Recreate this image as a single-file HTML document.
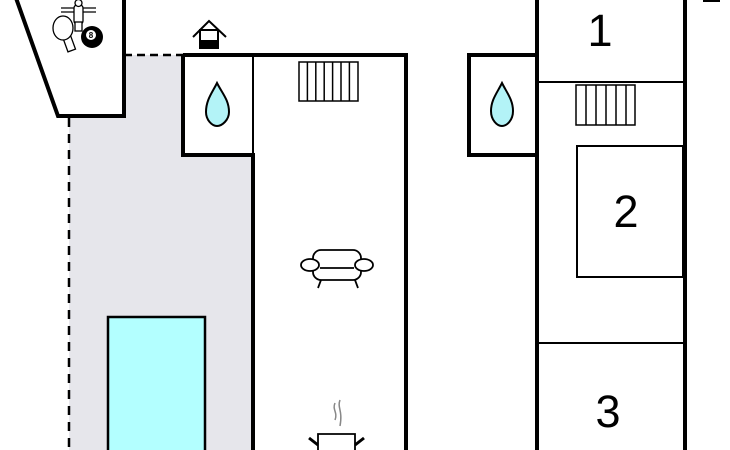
<!DOCTYPE html>
<html><head><style>html,body{margin:0;padding:0;background:#fff;}svg{display:block}</style></head>
<body>
<svg width="730" height="450" viewBox="0 0 730 450" xmlns="http://www.w3.org/2000/svg">
<rect width="730" height="450" fill="#fff"/>
<polygon points="124,55 183,55 183,155 253,155 253,450 69,450 69,116 124,116" fill="#e6e6eb"/>
<rect x="108" y="317" width="97" height="140" fill="#b3ffff" stroke="#000" stroke-width="2.5"/>
<line x1="124" y1="55" x2="183" y2="55" stroke="#000" stroke-width="2.5" stroke-dasharray="8,5"/>
<line x1="69" y1="118" x2="69" y2="450" stroke="#000" stroke-width="2.5" stroke-dasharray="9,7"/>
<polygon points="16,-2 58,116 124,116 124,-2" fill="#fff" stroke="#000" stroke-width="4"/>
<g stroke="#000" stroke-width="1.3" fill="none">
<line x1="61" y1="8" x2="96" y2="8"/><line x1="61" y1="12" x2="96" y2="12"/>
<rect x="74" y="5" width="9" height="19" rx="3" fill="#fff"/>
<circle cx="78.5" cy="3" r="3.5" fill="#fff"/>
<rect x="75" y="22" width="7" height="9" fill="#fff"/>
<rect x="65" y="36" width="8" height="15" transform="rotate(-20 69 43)" fill="#fff"/>
<ellipse cx="63" cy="28" rx="10" ry="12" fill="#fff"/>
</g>
<circle cx="92" cy="37" r="11" fill="#000"/>
<circle cx="91" cy="35" r="5" fill="#fff"/>
<text x="91" y="38" font-family="Liberation Sans, sans-serif" font-size="8" font-weight="bold" text-anchor="middle">8</text>
<polyline points="193,37 209,21 226,37" fill="none" stroke="#000" stroke-width="2"/>
<rect x="200" y="30" width="18" height="18" fill="#fff" stroke="#000" stroke-width="2"/>
<rect x="200" y="40" width="18" height="8" fill="#000"/>
<polyline points="183,55 406,55 406,452" fill="none" stroke="#000" stroke-width="4"/>
<polyline points="183,55 183,155 253,155 253,452" fill="none" stroke="#000" stroke-width="4"/>
<line x1="253" y1="55" x2="253" y2="155" stroke="#000" stroke-width="2"/>
<path d="M217,83 C212,93 206,100 206,112 C206,120 212,126 217,126 C222,126 229,120 229,112 C229,100 222,93 217,83 Z" fill="#b3f3f7" stroke="#000" stroke-width="2"/>
<g stroke="#000" stroke-width="1.5" fill="none">
<rect x="299" y="62" width="59" height="39"/>
<line x1="307.4" y1="62" x2="307.4" y2="101"/><line x1="315.8" y1="62" x2="315.8" y2="101"/><line x1="324.2" y1="62" x2="324.2" y2="101"/><line x1="332.6" y1="62" x2="332.6" y2="101"/><line x1="341" y1="62" x2="341" y2="101"/><line x1="349.4" y1="62" x2="349.4" y2="101"/>
</g>
<g stroke="#000" stroke-width="1.8" fill="#fff">
<rect x="313" y="250" width="48" height="30" rx="8"/>
<line x1="320" y1="268" x2="354" y2="268"/>
<ellipse cx="310" cy="265" rx="9" ry="6"/>
<ellipse cx="364" cy="265" rx="9" ry="6"/>
<line x1="321" y1="280" x2="318" y2="288"/><line x1="355" y1="280" x2="358" y2="288"/>
</g>
<path d="M335,403 C332,410 338,412 335,420 M340,400 C337,408 343,410 340,426" fill="none" stroke="#888" stroke-width="1.5"/>
<polyline points="318,452 318,434 355,434 355,452" fill="none" stroke="#000" stroke-width="1.8"/>
<line x1="309" y1="438" x2="318" y2="445" stroke="#000" stroke-width="3"/>
<line x1="364" y1="438" x2="355" y2="445" stroke="#000" stroke-width="3"/>
<polyline points="537,55 469,55 469,155 537,155" fill="none" stroke="#000" stroke-width="4"/>
<line x1="537" y1="-2" x2="537" y2="452" stroke="#000" stroke-width="4"/>
<line x1="685" y1="-2" x2="685" y2="452" stroke="#000" stroke-width="4"/>
<line x1="537" y1="82" x2="685" y2="82" stroke="#000" stroke-width="2"/>
<line x1="537" y1="343" x2="685" y2="343" stroke="#000" stroke-width="2"/>
<rect x="577" y="146" width="106" height="131" fill="none" stroke="#000" stroke-width="2"/>
<path d="M502,83 C497,93 491,100 491,111 C491,120 497,126 502,126 C507,126 513,120 513,111 C513,100 507,93 502,83 Z" fill="#b3f3f7" stroke="#000" stroke-width="2"/>
<g stroke="#000" stroke-width="1.5" fill="none">
<rect x="576" y="85" width="59" height="40"/>
<line x1="586" y1="85" x2="586" y2="125"/><line x1="596" y1="85" x2="596" y2="125"/><line x1="606" y1="85" x2="606" y2="125"/><line x1="616" y1="85" x2="616" y2="125"/><line x1="626" y1="85" x2="626" y2="125"/>
</g>
<line x1="703" y1="1" x2="720" y2="1" stroke="#000" stroke-width="2"/>
<g font-family="Liberation Sans, sans-serif" font-size="45" text-anchor="middle" fill="#000">
<text x="600" y="46">1</text>
<text x="626" y="227">2</text>
<text x="608" y="427">3</text>
</g>
</svg>
</body></html>
